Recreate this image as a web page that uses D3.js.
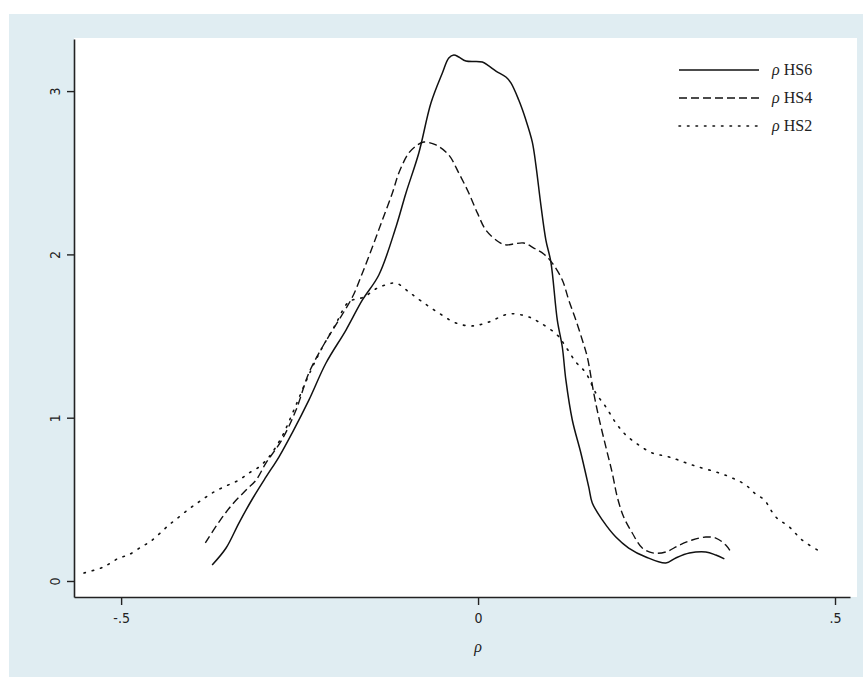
<!DOCTYPE html>
<html>
<head>
<meta charset="utf-8">
<script src="https://cdn.jsdelivr.net/npm/d3@7"></script>
<style>
  html, body { margin: 0; padding: 0; background: #ffffff; }
  svg { display: block; }
</style>
</head>
<body>
<svg id="chart" width="863" height="677"></svg>
<script>
// ---- data ----
const seriesNames = ["HS6", "HS4", "HS2"];
const xTicks = [-0.5, 0, 0.5];
const xTickLabels = ["-.5", "0", ".5"];
const yTicks = [0, 1, 2, 3];
const yTickLabels = ["0", "1", "2", "3"];

const hs6X = [-0.3725,-0.353,-0.335,-0.317,-0.297,-0.279,-0.2605,-0.237,-0.213,-0.185,-0.162,-0.139,-0.115,-0.101,-0.083,-0.066,-0.050,-0.041,-0.034,-0.027,-0.017,0.006,0.015,0.025,0.039,0.046,0.057,0.067,0.076,0.081,0.088,0.095,0.102,0.111,0.118,0.123,0.132,0.144,0.155,0.160,0.174,0.193,0.211,0.235,0.263,0.277,0.296,0.319,0.333,0.345];
const hs6Y = [0.098,0.202,0.355,0.496,0.637,0.759,0.906,1.108,1.335,1.537,1.721,1.874,2.168,2.376,2.621,2.927,3.111,3.203,3.221,3.209,3.184,3.178,3.154,3.123,3.086,3.050,2.945,2.823,2.688,2.547,2.302,2.088,1.953,1.598,1.433,1.231,0.986,0.784,0.576,0.478,0.374,0.269,0.202,0.147,0.110,0.141,0.171,0.178,0.159,0.135];

const hs4X = [-0.382,-0.363,-0.345,-0.325,-0.311,-0.297,-0.275,-0.255,-0.237,-0.218,-0.195,-0.176,-0.162,-0.148,-0.134,-0.120,-0.111,-0.097,-0.085,-0.076,-0.059,-0.041,-0.027,-0.013,-0.001,0.011,0.029,0.039,0.050,0.064,0.078,0.092,0.104,0.118,0.127,0.137,0.146,0.153,0.162,0.169,0.179,0.188,0.195,0.204,0.216,0.230,0.246,0.263,0.282,0.300,0.319,0.333,0.347,0.354];
const hs4Y = [0.233,0.361,0.465,0.557,0.618,0.723,0.863,1.047,1.274,1.433,1.598,1.739,1.886,2.045,2.211,2.376,2.498,2.621,2.670,2.688,2.670,2.609,2.498,2.376,2.254,2.149,2.076,2.058,2.064,2.070,2.039,2.002,1.947,1.843,1.721,1.598,1.476,1.372,1.151,1.004,0.821,0.661,0.514,0.392,0.294,0.202,0.171,0.178,0.220,0.251,0.269,0.263,0.220,0.178];

const hs2X = [-0.552,-0.528,-0.517,-0.503,-0.490,-0.472,-0.458,-0.433,-0.426,-0.405,-0.387,-0.370,-0.353,-0.335,-0.321,-0.307,-0.293,-0.275,-0.258,-0.239,-0.220,-0.200,-0.181,-0.160,-0.141,-0.125,-0.115,-0.097,-0.078,-0.055,-0.031,-0.008,0.015,0.043,0.067,0.085,0.111,0.123,0.137,0.151,0.165,0.179,0.193,0.207,0.225,0.244,0.268,0.300,0.338,0.356,0.375,0.387,0.401,0.417,0.436,0.454,0.480];
const hs2Y = [0.049,0.080,0.104,0.141,0.159,0.208,0.245,0.343,0.367,0.441,0.496,0.545,0.582,0.618,0.661,0.698,0.759,0.882,1.047,1.243,1.415,1.568,1.709,1.739,1.794,1.819,1.825,1.770,1.709,1.641,1.580,1.562,1.586,1.635,1.623,1.586,1.506,1.433,1.341,1.274,1.151,1.066,0.968,0.894,0.833,0.784,0.759,0.710,0.661,0.631,0.588,0.539,0.496,0.392,0.331,0.251,0.178];

const seriesX = [hs6X, hs4X, hs2X];
const seriesY = [hs6Y, hs4Y, hs2Y];
const seriesDash = [null, "8,4", "1.5,7"];
const seriesWidth = [1.5, 1.4, 1.6];

// ---- layout ----
const svg = d3.select("#chart");
const bg = "#e0edf2";

svg.append("rect").attr("x", 9).attr("y", 14).attr("width", 854).attr("height", 663).attr("fill", bg);
svg.append("rect").attr("x", 74).attr("y", 38).attr("width", 783).attr("height", 559).attr("fill", "#ffffff");

const x = d3.scaleLinear().domain([-0.566, 0.521]).range([74, 850]);
const y = d3.scaleLinear().domain([-0.098, 3.319]).range([597, 39]);

// x axis
const xAxis = d3.axisBottom(x).tickValues(xTicks).tickSize(8).tickSizeOuter(0).tickPadding(8)
  .tickFormat((d, i) => xTickLabels[i]);
const gx = svg.append("g").attr("transform", "translate(0,597)").call(xAxis);
gx.select(".domain").attr("stroke", "#222").attr("stroke-width", 1.6);
gx.selectAll(".tick line").attr("stroke", "#222").attr("stroke-width", 1.4);
gx.selectAll(".tick text").attr("fill", "#222").style("font-family", "'Liberation Sans Narrow', 'DejaVu Sans Condensed', sans-serif").style("font-size", "14px");

// y axis
const yAxis = d3.axisLeft(y).tickValues(yTicks).tickSize(7).tickSizeOuter(0).tickPadding(0)
  .tickFormat((d, i) => yTickLabels[i]);
const gy = svg.append("g").attr("transform", "translate(74,0)").call(yAxis);
gy.select(".domain").attr("stroke", "#222").attr("stroke-width", 1.6);
gy.selectAll(".tick line").attr("stroke", "#222").attr("stroke-width", 1.4);
gy.selectAll(".tick text")
  .attr("x", null).attr("dy", null)
  .attr("text-anchor", "middle")
  .attr("transform", "translate(-19,0) rotate(-90)")
  .attr("dy", "0.35em")
  .attr("fill", "#222")
  .style("font-family", "'Liberation Sans Narrow', 'DejaVu Sans Condensed', sans-serif")
  .style("font-size", "14px");

// axis title
svg.append("text").attr("x", x(0)).attr("y", 652).attr("text-anchor", "middle")
  .style("font-family", "'Liberation Serif', serif").style("font-style", "italic").style("font-size", "16px")
  .attr("fill", "#222").text("ρ");

// lines
const line = d3.line().x(d => x(d[0])).y(d => y(d[1])).curve(d3.curveCatmullRom.alpha(0.5));
seriesNames.forEach((name, i) => {
  const pts = seriesX[i].map((v, j) => [v, seriesY[i][j]]);
  const p = svg.append("path").datum(pts).attr("d", line)
    .attr("fill", "none").attr("stroke", "#111").attr("stroke-width", seriesWidth[i])
    .attr("stroke-linejoin", "round");
  if (seriesDash[i]) p.attr("stroke-dasharray", seriesDash[i]);
  if (i === 2) p.attr("stroke-linecap", "round");
});

// legend
const legendY = [70, 98, 126];
seriesNames.forEach((name, i) => {
  const l = svg.append("line").attr("x1", 679).attr("x2", 759).attr("y1", legendY[i]).attr("y2", legendY[i])
    .attr("stroke", "#111").attr("stroke-width", seriesWidth[i]);
  if (seriesDash[i]) l.attr("stroke-dasharray", seriesDash[i]);
  if (i === 2) l.attr("stroke-linecap", "round");
  const t = svg.append("text").attr("x", 772).attr("y", legendY[i] + 5)
    .style("font-family", "'Liberation Serif', serif").style("font-size", "16px").attr("fill", "#222");
  t.append("tspan").style("font-style", "italic").text("ρ");
  t.append("tspan").text(" " + name);
});
</script>
</body>
</html>
